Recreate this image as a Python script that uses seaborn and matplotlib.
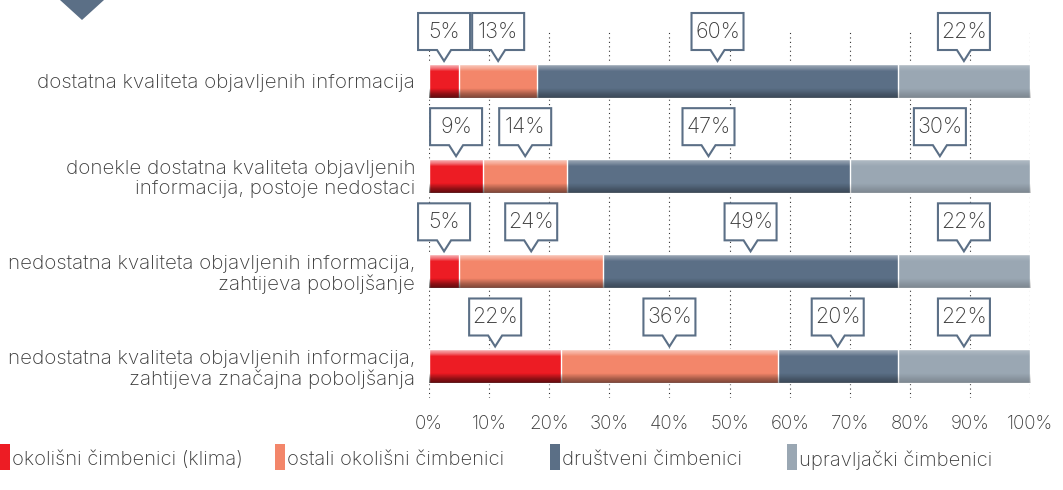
import numpy as np
import pandas as pd
import matplotlib
matplotlib.use('Agg')
import matplotlib.pyplot as plt
import matplotlib.transforms as mtransforms
from matplotlib.patches import Polygon, Rectangle
import seaborn as sns

# Podaci
kategorije = [
    'dostatna kvaliteta objavljenih informacija',
    'donekle dostatna kvaliteta objavljenih\ninformacija, postoje nedostaci',
    'nedostatna kvaliteta objavljenih informacija,\nzahtijeva poboljšanje',
    'nedostatna kvaliteta objavljenih informacija,\nzahtijeva značajna poboljšanja',
]
cimbenici = [
    'okolišni čimbenici (klima)',
    'ostali okolišni čimbenici',
    'društveni čimbenici',
    'upravljački čimbenici',
]
klima = [5, 9, 5, 22]
ostali_okolisni = [13, 14, 24, 36]
drustveni = [60, 47, 49, 20]
upravljacki = [22, 30, 22, 22]
boje = ['#ed1c24', '#f3866a', '#5b6f86', '#9aa7b3']
x_ticks = [0, 10, 20, 30, 40, 50, 60, 70, 80, 90, 100]

sns.set_style('white')
plt.rcParams['font.family'] = ['Inter', 'DejaVu Sans']
plt.rcParams['font.weight'] = 'light'
TXT = '#3a3a3a'
OKVIR = '#5b6f86'

# Dugi format s kumulativnim vrijednostima
udjeli = np.array([klima, ostali_okolisni, drustveni, upravljacki])
kum = udjeli.cumsum(axis=0)
redovi = []
for i, c in enumerate(cimbenici):
    for j, k in enumerate(kategorije):
        redovi.append({'kategorija': k, 'cimbenik': c, 'udio': udjeli[i, j],
                       'kraj': kum[i, j], 'sredina': kum[i, j] - udjeli[i, j] / 2})
df = pd.DataFrame(redovi)

fig = plt.figure(figsize=(10.63, 4.9), dpi=100)
ax = fig.add_axes([0.4036, 0.1878, 0.5654, 0.751])

VISINA = 0.357
# Slaganje: najprije najdulji segment, zatim kraći preko njega
for i in reversed(range(len(cimbenici))):
    sub = df[df['cimbenik'] == cimbenici[i]]
    sns.barplot(data=sub, x='kraj', y='kategorija', orient='h', color=boje[i],
                width=VISINA, errorbar=None, saturation=1, ax=ax, zorder=2)

# Blagi reljef na trakama (svjetliji vrh, tamnije dno)
sjena = np.zeros((40, 1, 4))
t = np.linspace(0, 1, 40)
sjena[:, 0, :3] = np.where(t < 0.5, 1.0, 0.0)[:, None]
sjena[:, 0, 3] = np.clip(0.25 - t * 1.2, 0, None) + np.clip((t - 0.72) * 0.7, 0, None)
for p in list(ax.patches):
    x0, y0 = p.get_x(), p.get_y()
    im = ax.imshow(sjena, extent=(x0, x0 + p.get_width(), y0 + p.get_height(), y0),
                   origin='upper', aspect='auto', zorder=3, interpolation='bilinear')
    im.set_clip_path(p)

ax.set_xlim(0, 100)
ax.set_ylim(3.331, -0.536)
ax.set_xticks(x_ticks)
ax.set_xticklabels([f'{t}%' for t in x_ticks])
ax.set_xlabel('')
ax.set_ylabel('')
for s in ax.spines.values():
    s.set_visible(False)
ax.grid(axis='x', linestyle=(0, (1, 3)), color='#333333', linewidth=0.8)
ax.grid(axis='y', visible=False)
ax.set_axisbelow(True)
ax.tick_params(axis='x', length=0, pad=12, labelsize=13.5, labelcolor=TXT)
ax.tick_params(axis='y', length=0, pad=10, labelsize=14.8, labelcolor=TXT)
for lab in ax.get_yticklabels():
    lab.set_linespacing(1.1)

# Oblačići s postocima
w, h, n, d, razmak = 52, 37, 7, 11, 3
vrhovi = [(0, razmak), (-n, razmak + d), (-w / 2, razmak + d), (-w / 2, razmak + d + h),
          (w / 2, razmak + d + h), (w / 2, razmak + d), (n, razmak + d)]
poz = {k: j for j, k in enumerate(kategorije)}
for _, r in df.iterrows():
    y_vrh = poz[r['kategorija']] - VISINA / 2
    trans = mtransforms.Affine2D() + mtransforms.ScaledTranslation(r['sredina'], y_vrh, ax.transData)
    ax.add_patch(Polygon(vrhovi, closed=True, transform=trans, facecolor='white',
                         edgecolor=OKVIR, linewidth=1.5, zorder=5, clip_on=False))
    ax.annotate(f"{int(r['udio'])}%", xy=(r['sredina'], y_vrh), xycoords='data',
                xytext=(0, razmak + d + h / 2), textcoords='offset pixels',
                ha='center', va='center', fontsize=15.5, color=TXT, zorder=6)

# Legenda
leg_x = [0, 275, 550, 787]
for x0, c, b in zip(leg_x, cimbenici, boje):
    fig.patches.append(Rectangle((x0 / 1063, 20 / 490), 10 / 1063, 26 / 490,
                                 transform=fig.transFigure, facecolor=b, edgecolor='none'))
    fig.text((x0 + 12) / 1063, 30 / 490, c, ha='left', va='center',
             fontsize=14.5, color=TXT)

# Ukrasni trokut gore lijevo
fig.patches.append(Polygon([(60 / 1063, 1), (104 / 1063, 1), (82 / 1063, 1 - 20 / 490)],
                           closed=True, transform=fig.transFigure,
                           facecolor=OKVIR, edgecolor='none'))

fig.savefig('out.png', dpi=100)
